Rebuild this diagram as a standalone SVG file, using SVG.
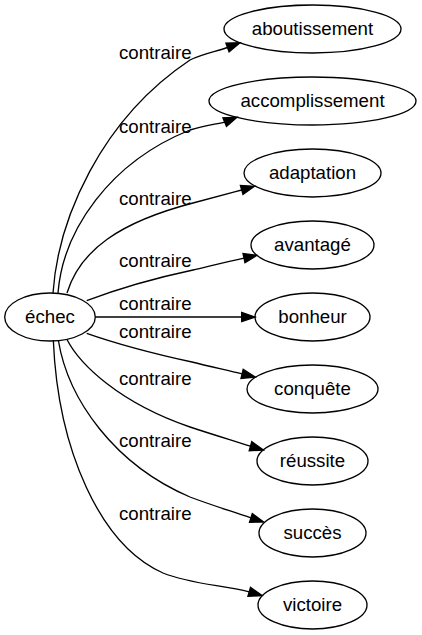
<svg xmlns="http://www.w3.org/2000/svg" width="422" height="635" viewBox="0 0 422 635">
<style>
.n ellipse{fill:none;stroke:#000;stroke-width:1.33}
text{font-family:"Liberation Sans",Arial,sans-serif;font-size:18.67px;fill:#000}
.n text{text-anchor:middle}
.l{fill:none;stroke:#000;stroke-width:1.33}
.h{fill:#000;stroke:#000;stroke-width:1.33}
</style>
<rect width="422" height="635" fill="#fff"/>
<g id="edges">
<path class="l" d="M53,293 C58,220 100,120 190,60 C202,54 216,51.5 227.5,47.5"/>
<polygon class="h" points="240,42.8 229.1,51.9 225.9,43.1"/>
<path class="l" d="M58,293 C63,230 110,162 190,130 C203,126 214,124.5 224.7,122.1"/>
<polygon class="h" points="237,117.3 226.5,126.4 222.9,117.8"/>
<path class="l" d="M67,293 C80,250 120,222 193,203 C208,199 225,194.5 241.7,190"/>
<polygon class="h" points="254.5,186.3 243,194.5 240.4,185.5"/>
<path class="l" d="M86.7,300.7 C120,288 160,277 193,270 C210,266 228,261.5 244,258.1"/>
<polygon class="h" points="257,255.3 245,262.7 243,253.5"/>
<path class="l" d="M95.3,317 L241.7,317"/>
<polygon class="h" points="255,317 241.7,321.67 241.7,312.33"/>
<path class="l" d="M86.7,333.3 C120,345 160,355 192,362 C208,366 226,370 242.1,373.9"/>
<polygon class="h" points="255,377 241,378.4 243.2,369.4"/>
<path class="l" d="M66.7,339 C80,365 120,403 190,427 C211,434 231,440 250.5,446.2"/>
<polygon class="h" points="263.3,450 249.2,450.7 251.8,441.7"/>
<path class="l" d="M58.3,340 C68,400 115,465 190,497 C211,505 231,511 250.9,517.9"/>
<polygon class="h" points="263.5,522 249.5,522.3 252.3,513.5"/>
<path class="l" d="M53.3,340 C58,450 100,545 163,573 C190,584 222,585 249.2,591.9"/>
<polygon class="h" points="262,595.5 247.9,596.4 250.5,587.4"/>
</g>
<g id="labels">
<text x="119" y="59">contraire</text>
<text x="119" y="133">contraire</text>
<text x="119" y="205">contraire</text>
<text x="119" y="267">contraire</text>
<text x="119" y="310">contraire</text>
<text x="119" y="338">contraire</text>
<text x="119" y="385">contraire</text>
<text x="119" y="447">contraire</text>
<text x="119" y="520">contraire</text>
</g>
<g id="n0" class="n"><ellipse cx="50" cy="317" rx="45.3" ry="24"/><text x="50" y="323">échec</text></g>
<g id="n1" class="n"><ellipse cx="312.5" cy="29" rx="88.5" ry="24"/><text x="312.5" y="35">aboutissement</text></g>
<g id="n2" class="n"><ellipse cx="312.5" cy="101" rx="103.5" ry="24"/><text x="312.5" y="107">accomplissement</text></g>
<g id="n3" class="n"><ellipse cx="312.5" cy="173" rx="68.5" ry="24"/><text x="312.5" y="179">adaptation</text></g>
<g id="n4" class="n"><ellipse cx="312.5" cy="245" rx="61.5" ry="24"/><text x="312.5" y="251">avantagé</text></g>
<g id="n5" class="n"><ellipse cx="312.5" cy="317" rx="57.5" ry="24"/><text x="312.5" y="323">bonheur</text></g>
<g id="n6" class="n"><ellipse cx="312.5" cy="389" rx="65.5" ry="24"/><text x="312.5" y="395">conquête</text></g>
<g id="n7" class="n"><ellipse cx="312.5" cy="461" rx="55.5" ry="24"/><text x="312.5" y="467">réussite</text></g>
<g id="n8" class="n"><ellipse cx="312.5" cy="533" rx="53.5" ry="24"/><text x="312.5" y="539">succès</text></g>
<g id="n9" class="n"><ellipse cx="312.5" cy="605" rx="54.5" ry="24"/><text x="312.5" y="611">victoire</text></g>
</svg>
